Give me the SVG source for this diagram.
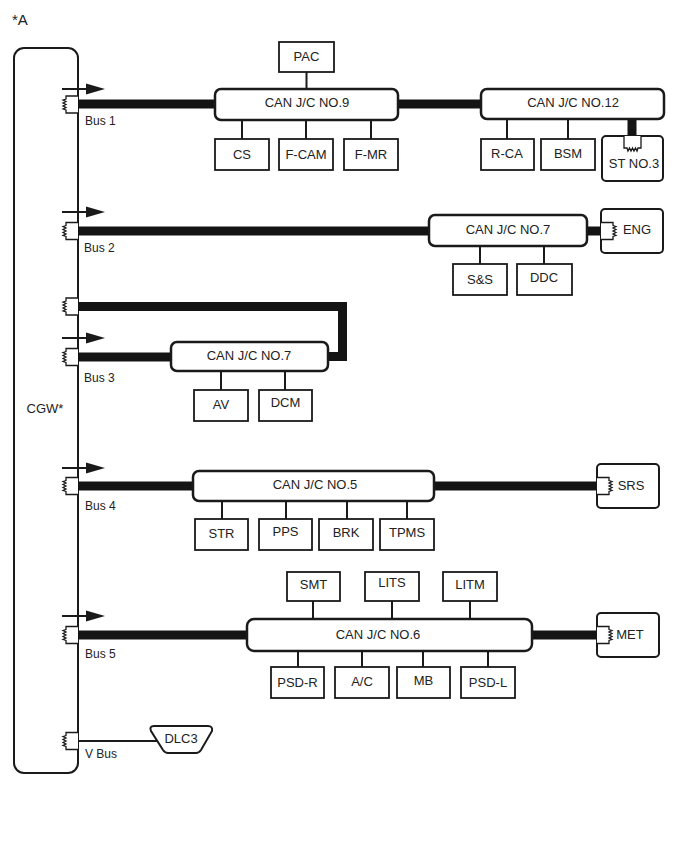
<svg xmlns="http://www.w3.org/2000/svg" xmlns:xlink="http://www.w3.org/1999/xlink" width="688" height="852" viewBox="0 0 688 852">
<style>
text{font-family:"Liberation Sans",Arial,sans-serif;fill:#222;font-size:13px;text-anchor:middle}
.lbl{font-size:12px;text-anchor:start}
.jc{fill:#fff;stroke:#1a1a1a;stroke-width:2.5}
.dev{fill:#fff;stroke:#1a1a1a;stroke-width:1.8}
.ecu{fill:#fff;stroke:#1a1a1a;stroke-width:2}
.bus{fill:none;stroke:#141414;stroke-width:9}
.thin{fill:none;stroke:#1a1a1a;stroke-width:2}
</style>
<defs>
<path id="term" d="M0,-8.5 H-12 V-5.5 L-15,-4.5 L-12,-3 L-15,-1.5 L-12,0 L-15,1.5 L-12,3 L-15,4.5 L-12,5.5 V8.5 H0" fill="#fff" stroke="#1a1a1a" stroke-width="1.3"/>
<g id="arrow"><line x1="62" y1="0" x2="90" y2="0" stroke="#1a1a1a" stroke-width="2"/><polygon points="86,-5.5 105,0 86,5.5" fill="#1a1a1a"/></g>
</defs>
<text x="12" y="25" style="font-size:15px;text-anchor:start">*A</text>

<g id="cgw">
<rect x="14" y="48" width="64" height="725" rx="10" class="ecu"/>
<text x="45" y="413">CGW*</text>
<use xlink:href="#term" transform="translate(78,104.5)"/>
<use xlink:href="#term" transform="translate(78,231)"/>
<use xlink:href="#term" transform="translate(78,306.5)"/>
<use xlink:href="#term" transform="translate(78,357)"/>
<use xlink:href="#term" transform="translate(78,486)"/>
<use xlink:href="#term" transform="translate(78,635)"/>
<use xlink:href="#term" transform="translate(78,741)"/>
<text class="lbl" x="85" y="125">Bus 1</text>
<text class="lbl" x="84" y="252">Bus 2</text>
<text class="lbl" x="84" y="382">Bus 3</text>
<text class="lbl" x="85" y="510">Bus 4</text>
<text class="lbl" x="85" y="658">Bus 5</text>
<text class="lbl" x="85" y="758">V Bus</text>
</g>

<g id="connectors">
<path class="bus" d="M78,104 H481"/>
<path class="bus" d="M632,119 V137"/>
<path class="bus" d="M78,231 H601"/>
<path class="bus" d="M78,306.5 H342.5 V356.5 H328"/>
<path class="bus" d="M78,357 H171"/>
<path class="bus" d="M78,486 H597"/>
<path class="bus" d="M78,635 H597"/>
<path class="thin" d="M78,741 H158"/>
<path class="thin" d="M306.5,72 V89 M242,120 V139 M306,120 V139 M371,120 V139"/>
<path class="thin" d="M507,119 V139 M568,119 V139"/>
<path class="thin" d="M480,246 V264 M544,246 V264"/>
<path class="thin" d="M221,371 V390 M285,371 V390"/>
<path class="thin" d="M222,501 V519 M286,501 V519 M347,501 V519 M407,501 V519"/>
<path class="thin" d="M313,601 V619 M392,601 V619 M470,601 V619"/>
<path class="thin" d="M298,651 V667 M362,651 V667 M423,651 V667 M488,651 V667"/>
<use xlink:href="#arrow" transform="translate(0,89)"/>
<use xlink:href="#arrow" transform="translate(0,212)"/>
<use xlink:href="#arrow" transform="translate(0,338)"/>
<use xlink:href="#arrow" transform="translate(0,468)"/>
<use xlink:href="#arrow" transform="translate(0,616)"/>
</g>

<g id="pac"><rect x="279" y="42" width="55" height="30" class="dev"/><text x="306.5" y="61">PAC</text></g>
<g id="jc9"><rect x="215" y="89" width="183" height="31" rx="6" class="jc"/><text x="307" y="107">CAN J/C NO.9</text></g>
<g id="cs"><rect x="215" y="139" width="54" height="31" class="dev"/><text x="242" y="159">CS</text></g>
<g id="fcam"><rect x="279" y="139" width="54" height="31" class="dev"/><text x="306" y="159">F-CAM</text></g>
<g id="fmr"><rect x="344" y="139" width="54" height="31" class="dev"/><text x="371" y="159">F-MR</text></g>

<g id="jc12"><rect x="481" y="89" width="183" height="30" rx="6" class="jc"/><text x="573" y="107">CAN J/C NO.12</text></g>
<g id="rca"><rect x="481" y="139" width="53" height="31" class="dev"/><text x="507" y="158">R-CA</text></g>
<g id="bsm"><rect x="541" y="139" width="54" height="31" class="dev"/><text x="568" y="158">BSM</text></g>
<g id="st3"><rect x="602" y="136" width="61" height="45" rx="4" class="ecu"/><use xlink:href="#term" transform="translate(632.5,136) rotate(-90)"/><text x="634" y="168">ST NO.3</text></g>

<g id="jc7a"><rect x="429" y="215" width="158" height="31" rx="6" class="jc"/><text x="508" y="234">CAN J/C NO.7</text></g>
<g id="eng"><rect x="601" y="209" width="62" height="44" rx="4" class="ecu"/><use xlink:href="#term" transform="translate(601,231) scale(-1,1)"/><text x="637" y="234">ENG</text></g>
<g id="ss"><rect x="453" y="264" width="54" height="31" class="dev"/><text x="480" y="284">S&amp;S</text></g>
<g id="ddc"><rect x="517" y="264" width="55" height="31" class="dev"/><text x="544" y="282">DDC</text></g>

<g id="jc7b"><rect x="171" y="342" width="157" height="29" rx="6" class="jc"/><text x="249" y="360">CAN J/C NO.7</text></g>
<g id="av"><rect x="194" y="390" width="54" height="31" class="dev"/><text x="221" y="409">AV</text></g>
<g id="dcm"><rect x="259" y="390" width="53" height="31" class="dev"/><text x="285.5" y="407">DCM</text></g>

<g id="jc5"><rect x="193" y="471" width="241" height="30" rx="6" class="jc"/><text x="315" y="489">CAN J/C NO.5</text></g>
<g id="srs"><rect x="597" y="464" width="62" height="44" rx="4" class="ecu"/><use xlink:href="#term" transform="translate(597,486) scale(-1,1)"/><text x="631" y="490">SRS</text></g>
<g id="str"><rect x="195" y="519" width="53" height="31" class="dev"/><text x="221.5" y="538">STR</text></g>
<g id="pps"><rect x="259" y="519" width="53" height="31" class="dev"/><text x="285.5" y="536">PPS</text></g>
<g id="brk"><rect x="319" y="519" width="54" height="31" class="dev"/><text x="346" y="537">BRK</text></g>
<g id="tpms"><rect x="380" y="519" width="54" height="31" class="dev"/><text x="407" y="537">TPMS</text></g>

<g id="smt"><rect x="287" y="572" width="53" height="29" class="dev"/><text x="313.5" y="589">SMT</text></g>
<g id="lits"><rect x="365" y="572" width="54" height="29" class="dev"/><text x="392" y="587">LITS</text></g>
<g id="litm"><rect x="443" y="572" width="54" height="29" class="dev"/><text x="470" y="589">LITM</text></g>
<g id="jc6"><rect x="247" y="619" width="285" height="32" rx="7" class="jc"/><text x="378" y="639">CAN J/C NO.6</text></g>
<g id="met"><rect x="597" y="613" width="62" height="44" rx="4" class="ecu"/><use xlink:href="#term" transform="translate(597,635) scale(-1,1)"/><text x="630" y="639">MET</text></g>
<g id="psdr"><rect x="271" y="667" width="53" height="31" class="dev"/><text x="297.5" y="687">PSD-R</text></g>
<g id="ac"><rect x="335" y="667" width="54" height="31" class="dev"/><text x="362" y="686">A/C</text></g>
<g id="mb"><rect x="397" y="667" width="53" height="31" class="dev"/><text x="423.5" y="685">MB</text></g>
<g id="psdl"><rect x="461" y="667" width="54" height="31" class="dev"/><text x="488" y="687">PSD-L</text></g>

<g id="dlc3"><path d="M154,726 H208 Q213,726 212,731 L201,750 Q199,753 196,753 H168 Q165,753 163,750 L151,731 Q149,726 154,726 Z" class="ecu"/><text x="181" y="743">DLC3</text></g>
</svg>
